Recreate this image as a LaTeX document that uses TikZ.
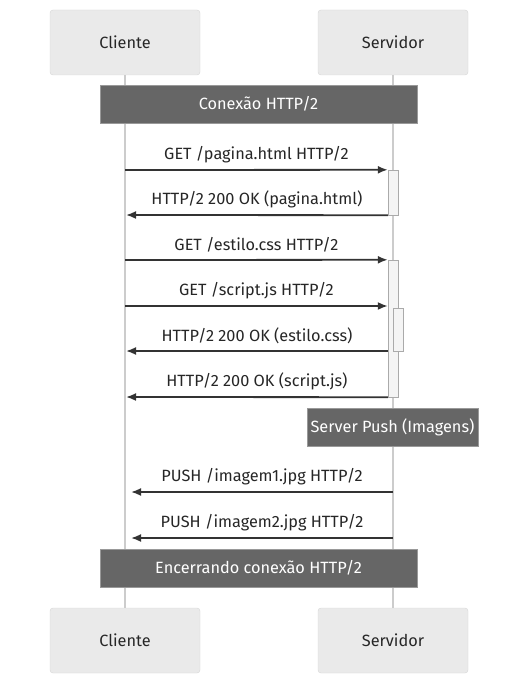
\documentclass[tikz,border=0pt]{standalone}
\usepackage{fontspec}
\setmainfont{Fira Sans}
\usetikzlibrary{arrows.meta,positioning,calc}
\definecolor{actfill}{HTML}{EAEAEA}
\definecolor{actline}{HTML}{D6D6D6}
\definecolor{lifeline}{HTML}{CCCCCC}
\definecolor{notefill}{HTML}{666666}
\definecolor{noteline}{HTML}{999999}
\definecolor{msgline}{HTML}{333333}
\definecolor{boxfill}{HTML}{F4F4F4}
\definecolor{boxline}{HTML}{AAAAAA}
\tikzset{
  actor/.style={draw=actline,fill=actfill,rounded corners=3pt,minimum width=150pt,minimum height=65pt,text=black!85},
  note/.style={draw=noteline,fill=notefill,minimum height=38pt,text=white},
  activ/.style={draw=boxline,fill=boxfill,minimum width=10pt,inner sep=0pt},
  life/.style={lifeline,line width=1.2pt},
  msg/.style={->,msgline,line width=1.8pt},
  lbl/.style={midway,above=3pt,text=black!85}
}
\begin{document}
\begin{tikzpicture}[x=1pt,y=-1pt,>={Latex[length=10pt,width=8pt]},font=\fontsize{16.3}{19}\selectfont]
            \useasboundingbox (0,0) rectangle (526,684);
            % actors
            \node [actor] (cli) at (125,42.5) {Cliente};
            \node [actor] (srv) at (393,42.5) {Servidor};
            \node [actor] (cliB) at (125,640.5) {Cliente};
            \node [actor] (srvB) at (393,640.5) {Servidor};
            \draw [life] (cli.south) -- (cliB.north);
            \draw [life] (srv.south) -- (srvB.north);
            % notes
            \node [note,minimum width=317pt] (open) at (258.5,104) {Conexão HTTP/2};
            \node [note,minimum width=165pt] (push) at (392.5,427) {Server Push (Imagens)};
            \node [note,minimum width=317pt] (close) at (258.5,568) {Encerrando conexão HTTP/2};
            % activations
            \node [activ,minimum height=45pt] (act1) at (393,192.5) {};
            \node [activ,minimum height=137pt] (act2) at (393,328.5) {};
            \node [activ,minimum height=43pt] (act3) at (398,329.5) {};
            % points on the client lifeline
            \coordinate (c1) at (125,170);
            \coordinate (c2) at (126,215);
            \coordinate (c3) at (125,260);
            \coordinate (c4) at (125,306);
            \coordinate (c5) at (126,351);
            \coordinate (c6) at (126,397);
            \coordinate (c7) at (131,492);
            \coordinate (c8) at (131,538);
            \coordinate (s5) at (388,351);
            \coordinate (s6) at (388,397);
            \coordinate (s7) at (393,492);
            \coordinate (s8) at (393,538);
            % messages
            \draw [msg] (c1) -- (act1.north west) node [lbl] {GET /pagina.html HTTP/2};
            \draw [msg] (act1.south west) -- (c2) node [lbl] {HTTP/2 200 OK (pagina.html)};
            \draw [msg] (c3) -- (act2.north west) node [lbl] {GET /estilo.css HTTP/2};
            \draw [msg] (c4) -- (c4 -| act2.west) node [lbl] {GET /script.js HTTP/2};
            \draw [msg] (s5) -- (c5) node [lbl] {HTTP/2 200 OK (estilo.css)};
            \draw [msg] (act2.south west) -- (c6) node [lbl] {HTTP/2 200 OK (script.js)};
            \draw [msg] (s7) -- (c7) node [lbl] {PUSH /imagem1.jpg HTTP/2};
            \draw [msg] (s8) -- (c8) node [lbl] {PUSH /imagem2.jpg HTTP/2};
         \end{tikzpicture}
\end{document}
